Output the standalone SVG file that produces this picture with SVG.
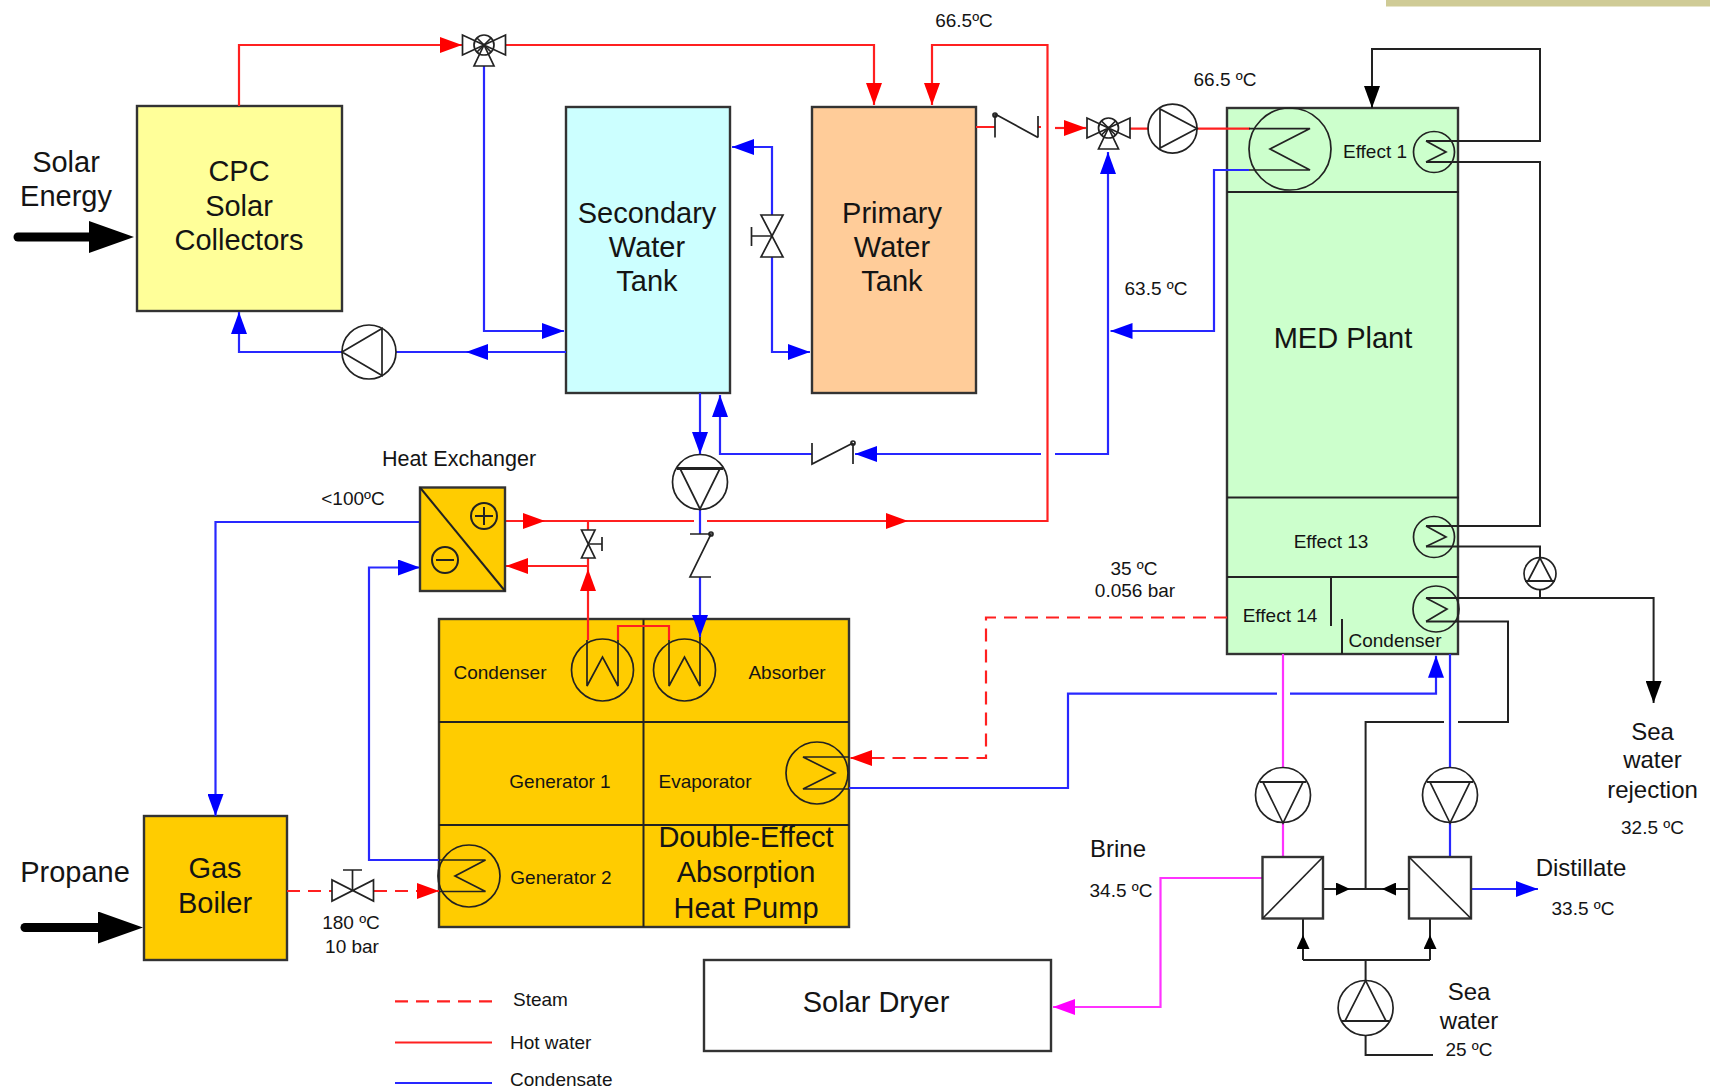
<svg xmlns="http://www.w3.org/2000/svg" width="1710" height="1090" viewBox="0 0 1710 1090">
<style>
text{font-family:"Liberation Sans",Arial,sans-serif;fill:#141414;text-anchor:middle}
.l{font-size:29px}.m{font-size:24px}.s{font-size:19px}.st{text-anchor:start}
.box{stroke:#333;stroke-width:2.4}
.gold{fill:#ffcc00}.yel{fill:#ffff99}.cy{fill:#ccffff}.pe{fill:#ffcc99}.gr{fill:#ccffcc}.wh{fill:#fff}
.e{fill:none;stroke:#222;stroke-width:1.7}
.k{fill:none;stroke:#222;stroke-width:2}
.r{fill:none;stroke:#ff2020;stroke-width:2.2}
.rd{fill:none;stroke:#ff2020;stroke-width:2.2;stroke-dasharray:13 8}
.b{fill:none;stroke:#2828ff;stroke-width:2.2}
.p{fill:none;stroke:#ff33ff;stroke-width:2.2}
.ar{marker-end:url(#ar)}.ab{marker-end:url(#ab)}.ap{marker-end:url(#ap)}.ak{marker-end:url(#ak)}.as{marker-end:url(#as)}
</style>
<defs>
<marker id="ar" markerUnits="userSpaceOnUse" markerWidth="22" markerHeight="16" refX="22" refY="8" orient="auto"><path d="M0,0L22,8L0,16Z" fill="#ff0000"/></marker>
<marker id="ab" markerUnits="userSpaceOnUse" markerWidth="22" markerHeight="16" refX="22" refY="8" orient="auto"><path d="M0,0L22,8L0,16Z" fill="#0000ff"/></marker>
<marker id="ap" markerUnits="userSpaceOnUse" markerWidth="22" markerHeight="16" refX="22" refY="8" orient="auto"><path d="M0,0L22,8L0,16Z" fill="#ff00ff"/></marker>
<marker id="ak" markerUnits="userSpaceOnUse" markerWidth="22" markerHeight="16" refX="22" refY="8" orient="auto"><path d="M0,0L22,8L0,16Z" fill="#000"/></marker>
<marker id="as" markerUnits="userSpaceOnUse" markerWidth="14" markerHeight="13" refX="14" refY="6.5" orient="auto"><path d="M0,0L14,6.5L0,13Z" fill="#000"/></marker>
<marker id="big" markerUnits="userSpaceOnUse" markerWidth="45" markerHeight="32" refX="0" refY="16" orient="auto"><path d="M0,0L45,16L0,32Z" fill="#000"/></marker>
<g id="valve3" class="e"><path d="M-21.500,-10V10L0,0ZM21.500,-10V10L0,0ZM0,0L-10,21H10Z"/><circle r="10"/><path d="M-7,-7L7,7M7,-7L-7,7"/></g>
</defs>

<rect id="title-bar" x="1386" y="0" width="324" height="6.500" fill="#cfcb96"/>

<g id="cpc"><rect class="box yel" x="137" y="106" width="205" height="205"/>
<text class="l" x="239" y="181">CPC</text><text class="l" x="239" y="216">Solar</text><text class="l" x="239" y="250">Collectors</text></g>
<g id="secondary-tank"><rect class="box cy" x="566" y="107" width="164" height="286"/>
<text class="l" x="647" y="223">Secondary</text><text class="l" x="647" y="257">Water</text><text class="l" x="647" y="291">Tank</text></g>
<g id="primary-tank"><rect class="box pe" x="812" y="107" width="164" height="286"/>
<text class="l" x="892" y="223">Primary</text><text class="l" x="892" y="257">Water</text><text class="l" x="892" y="291">Tank</text></g>
<g id="med-plant"><rect class="box gr" x="1227" y="108" width="231" height="546"/>
<path class="k" d="M1227,192H1459M1227,497.500H1459M1227,577H1459M1331,577V626M1342,619V654"/>
<text class="l" x="1343" y="348">MED Plant</text>
<text class="s" x="1375" y="158">Effect 1</text><text class="s" x="1331" y="548">Effect 13</text><text class="s" x="1280" y="622">Effect 14</text><text class="s" x="1395" y="647">Condenser</text></g>
<g id="absorption-heat-pump"><rect class="box gold" x="439" y="619" width="410" height="308"/>
<path class="k" d="M643.500,619V927M439,722H849M439,825H849"/>
<text class="s" x="500" y="679">Condenser</text><text class="s" x="787" y="679">Absorber</text><text class="s" x="560" y="788">Generator 1</text><text class="s" x="705" y="788">Evaporator</text><text class="s" x="561" y="884">Generator 2</text>
<text class="l" x="746" y="847">Double-Effect</text><text class="l" x="746" y="882">Absorption</text><text class="l" x="746" y="918">Heat Pump</text></g>
<g id="gas-boiler"><rect class="box gold" x="144" y="816" width="143" height="144"/>
<text class="l" x="215" y="878">Gas</text><text class="l" x="215" y="913">Boiler</text></g>
<g id="solar-dryer"><rect class="box wh" x="704" y="960" width="347" height="91"/><text class="l" x="876" y="1012">Solar Dryer</text></g>

<g id="connectors">
<path class="r ar" d="M239,106V45H462"/>
<path class="r ar" d="M505,45H874V105"/>
<path class="r ar" d="M505,521H545"/>
<path class="r" d="M545,521H694"/>
<path class="r ar" d="M707,521H908"/>
<path class="r ar" d="M908,521H1047.500V45H932V105"/>
<path class="r" d="M976,127H995M1038,127H1041"/>
<path class="r ar" d="M1055,128H1086"/>
<path class="r" d="M1130,128.600H1149M1197,128.600H1250M588,521V530M588,558V569M618,640V626H669V640"/>
<path class="r ar" d="M588,640V569"/>
<path class="r ar" d="M588,566H506"/>
<path class="rd" d="M287,891H332"/>
<path class="rd ar" d="M374,891H439"/>
<path class="rd ar" d="M1227,617.500H986V758H850"/>
<path class="b ab" d="M484,66V331H564"/>
<path class="b ab" d="M566,352H466"/>
<path class="b" d="M466,352H396"/>
<path class="b ab" d="M342,352H239V312"/>
<path class="b ab" d="M772,215V147H732"/>
<path class="b ab" d="M772,257V352H810"/>
<path class="b ab" d="M700,393V454"/>
<path class="b ab" d="M812,454H720V395"/>
<path class="b ab" d="M1041,454H855"/>
<path class="b ab" d="M1055,454H1108V152"/>
<path class="b ab" d="M1249,170H1214V331H1110.500"/>
<path class="b" d="M700,509V534"/>
<path class="b ab" d="M700,577V637"/>
<path class="b ab" d="M420,522H215.500V816"/>
<path class="b ab" d="M439,860H369V567.500H420"/>
<path class="b" d="M849,788H1068V693.600H1277"/>
<path class="b ab" d="M1290,693.600H1436V655.700"/>
<path class="b" d="M1450,654V767M1450,823V857"/>
<path class="b ab" d="M1471,889H1538"/>
<path class="p" d="M1283,654V767M1283,823V857"/>
<path class="p ap" d="M1262.500,878H1160.500V1007H1053"/>
<path class="k ak" d="M1426,141H1540V49H1372V108"/>
<path class="k" d="M1426,162H1540V526H1426M1426,546.400H1540V557.600M1540,589.600V598"/>
<path class="k ak" d="M1426,598H1653.600V703"/>
<path class="k" d="M1426,621.400H1508V722H1458M1444,722H1365.600V889M1350,889H1382M1365.600,980V960M1303,960H1430M1303,935V919M1430,935V919M1365.600,1036V1055H1433"/>
<path class="k as" d="M1323,889H1350"/>
<path class="k as" d="M1409,889H1382"/>
<path class="k as" d="M1303,960V935"/>
<path class="k as" d="M1430,960V935"/>
<path d="M18,237H89" fill="none" stroke="#000" stroke-width="9" stroke-linecap="round" marker-end="url(#big)"/>
<path d="M25,927.500H98" fill="none" stroke="#000" stroke-width="9" stroke-linecap="round" marker-end="url(#big)"/>
<path class="rd" d="M395,1001.400H492"/>
<path class="r" d="M395,1042.500H492"/>
<path class="b" d="M395,1083H492"/>
</g>

<g id="heat-exchanger"><rect class="box gold" x="420" y="487.500" width="85" height="103.500"/>
<path class="k" d="M420,487.500L505,591"/>
<circle class="k" cx="484" cy="516" r="13"/><path class="k" d="M475,516H493M484,507V525"/>
<circle class="k" cx="445" cy="560" r="13"/><path class="k" d="M436,560H454"/>
<text x="459" y="466" style="font-size:21.500px">Heat Exchanger</text></g>

<g id="valve-3way-1"><use href="#valve3" x="484" y="45"/></g>
<g id="valve-3way-2"><use href="#valve3" x="1108.500" y="128"/></g>
<g id="pump-collector"><circle class="e" cx="369" cy="352" r="27"/><path class="e" d="M342,352L382,328.500V375.500Z"/></g>
<g id="pump-top"><circle class="e" cx="1172.500" cy="128.600" r="24.500"/><path class="e" d="M1197,128.600L1160,109V148Z"/></g>
<g id="pump-hx"><circle class="e" cx="700" cy="482" r="27.500"/><path class="e" d="M700,509L680,468.500H720Z"/><path class="k" d="M677,468.500H723" style="stroke-width:3"/></g>
<g id="pump-brine"><circle class="e" cx="1283" cy="795" r="27.500"/><path class="e" d="M1283,823L1263,782H1303Z"/><path class="k" d="M1260,782H1306"/></g>
<g id="pump-distillate"><circle class="e" cx="1450" cy="795" r="27.500"/><path class="e" d="M1450,823L1430,782H1470Z"/><path class="k" d="M1427,782H1473"/></g>
<g id="pump-sea"><circle class="e" cx="1365.600" cy="1008" r="27.500"/><path class="e" d="M1365.600,980.700L1345,1021H1386Z"/><path class="k" d="M1342,1021H1389"/></g>
<g id="pump-small"><circle class="e" cx="1540" cy="573.600" r="16"/><path class="e" d="M1540,558L1528,581H1552Z"/><path class="k" d="M1525,581H1555"/></g>

<g id="valve-tanks" class="e"><path d="M761,215H783L761,257H783Z"/><path d="M772,236H751.500M751.500,227V246"/></g>
<g id="valve-hx" class="e"><path d="M581.500,530H595L581.500,558H595Z"/><path d="M588,544H602M602,537V551"/></g>
<g id="valve-steam" class="e"><path d="M332,880V901L373.500,880V901Z"/><path d="M352.500,890.500V870M343,870H362"/></g>
<g id="check-primary" class="e"><path d="M995,114V137.500M995,114L1038,137.500M1038,116V137.500"/><circle cx="995" cy="115" r="2"/></g>
<g id="check-return" class="e"><path d="M812,443V464L853,443M853,443V464"/><circle cx="853" cy="443" r="2"/></g>
<g id="check-hx" class="e"><path d="M690,534H711L690,577H711"/><circle cx="711" cy="534" r="2"/></g>

<g id="coil-condenser" class="e"><circle cx="602.500" cy="670" r="31"/><path d="M587,640V686L602.500,657L618,686V640"/></g>
<g id="coil-absorber" class="e"><circle cx="684.500" cy="670" r="31"/><path d="M669,640V686L684.500,657L700,686V637"/></g>
<g id="coil-evaporator" class="e"><circle cx="817" cy="773" r="31"/><path d="M849,757H803L835,773L803,789H849"/></g>
<g id="coil-generator" class="e"><circle cx="469" cy="876" r="31"/><path d="M439,860H485.500L455,876L485.500,891.500H439"/></g>
<g id="coil-effect1" class="e"><circle cx="1290" cy="149" r="41"/><path d="M1249,128.600H1310L1270,149L1310,170H1249"/></g>
<g id="coil-effect1-small" class="e"><circle cx="1434" cy="152" r="20.500"/><path d="M1426,141L1446,152L1426,162"/></g>
<g id="coil-effect13" class="e"><circle cx="1434" cy="537" r="20.500"/><path d="M1426,526L1446,537L1426,546.400"/></g>
<g id="coil-condenser-med" class="e"><circle cx="1436" cy="609" r="23"/><path d="M1426,598L1447,609L1426,621.400"/></g>

<g id="exchanger-left"><rect class="box wh" x="1262.500" y="857" width="60.500" height="61.500"/><path class="e" d="M1262.500,918.500L1323,857"/></g>
<g id="exchanger-right"><rect class="box wh" x="1409" y="857" width="62" height="61.500"/><path class="e" d="M1409,857L1471,918.500"/></g>

<g id="labels">
<text class="l" x="66" y="172">Solar</text><text class="l" x="66" y="206">Energy</text>
<text class="l" x="75" y="882">Propane</text>
<text class="s" x="353" y="505">&lt;100ºC</text>
<text class="s" x="964" y="27">66.5ºC</text>
<text class="s" x="1225" y="86">66.5 ºC</text>
<text class="s" x="1156" y="295">63.5 ºC</text>
<text class="s" x="1134" y="574.500">35 ºC</text>
<text class="s" x="1135" y="597">0.056 bar</text>
<text class="s" x="351" y="929">180 ºC</text>
<text class="s" x="352" y="953">10 bar</text>
<text class="m" x="1118" y="857">Brine</text>
<text class="s" x="1121" y="897">34.5 ºC</text>
<text class="m" x="1652.500" y="739.500">Sea</text><text class="m" x="1652.500" y="768">water</text><text class="m" x="1652.500" y="798">rejection</text>
<text class="s" x="1652.500" y="833.500">32.5 ºC</text>
<text class="m" x="1581" y="876">Distillate</text>
<text class="s" x="1583" y="915">33.5 ºC</text>
<text class="m" x="1469" y="999.500">Sea</text><text class="m" x="1469" y="1029">water</text>
<text class="s" x="1469" y="1056">25 ºC</text>
<text class="s st" x="513" y="1005.500">Steam</text>
<text class="s st" x="510" y="1048.500">Hot water</text>
<text class="s st" x="510" y="1086">Condensate</text>
</g>
</svg>
